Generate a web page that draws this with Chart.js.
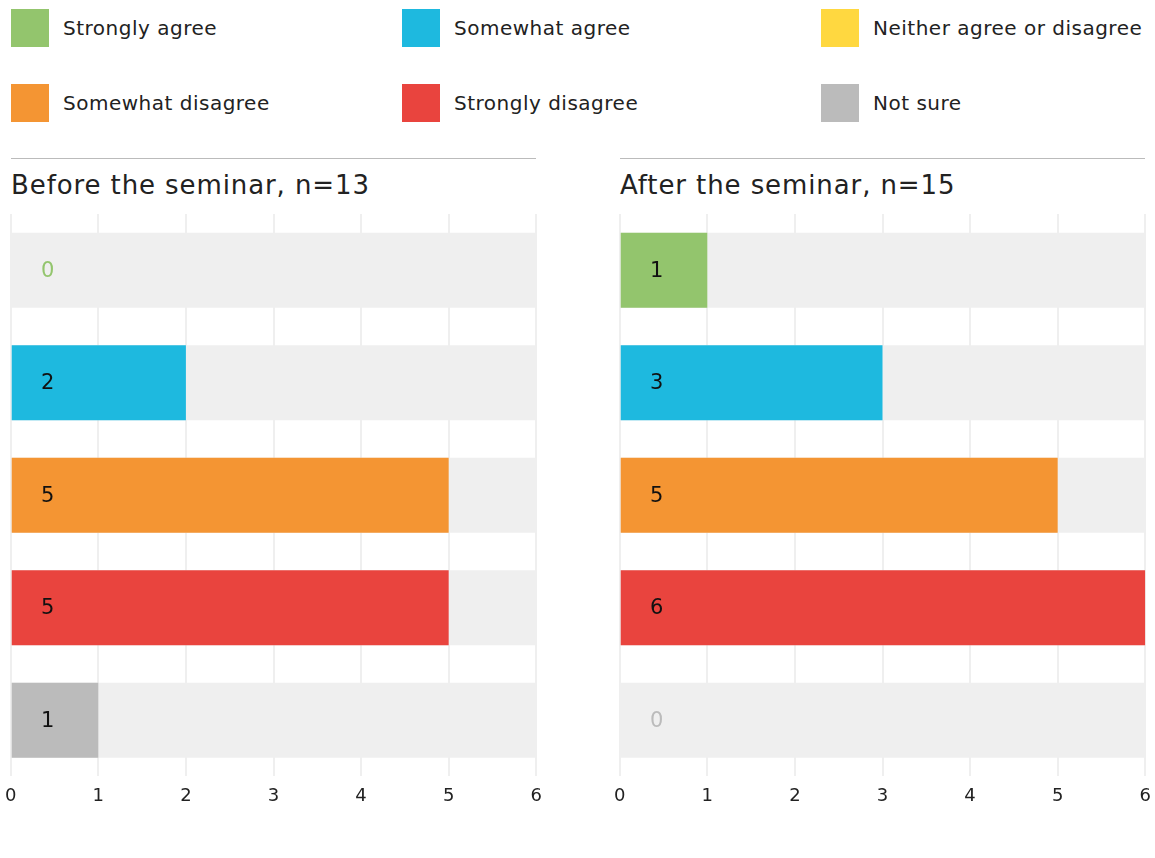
<!DOCTYPE html>
<html>
<head>
<meta charset="utf-8">
<script src="https://cdn.jsdelivr.net/npm/chart.js@4.4.1/dist/chart.umd.min.js"></script>
<style>
  html, body { margin: 0; background: #fff; font-family: "DejaVu Sans", sans-serif; color: #222; overflow: hidden; }
  #page { position: relative; width: 1155px; height: 858px; overflow: hidden; }
  .legend-item { position: absolute; height: 38px; display: flex; align-items: center; font-size: 20px; letter-spacing: 0.5px; }
  .legend-item .sw { width: 38px; height: 38px; margin-right: 14px; }
  .panel-head { position: absolute; top: 158px; width: 525px; border-top: 1px solid #bbb; }
  .panel-head div { font-size: 26px; letter-spacing: 0.9px; margin-top: 11px; color: #222; }
  .chart-box { position: absolute; top: 214px; width: 555px; height: 602px; }
</style>
</head>
<body>
<div id="page">
  <div id="legend"></div>
  <div class="panel-head" style="left:11px"><div>Before the seminar, n=13</div></div>
  <div class="panel-head" style="left:620px"><div>After the seminar, n=15</div></div>
  <div class="chart-box" style="left:-4px"><canvas id="before"></canvas></div>
  <div class="chart-box" style="left:605px"><canvas id="after"></canvas></div>
</div>
<script>
// legend entries (Neither... has no bar in either panel)
const legendLabels = ['Strongly agree', 'Somewhat agree', 'Neither agree or disagree',
                      'Somewhat disagree', 'Strongly disagree', 'Not sure'];
const legendColors = ['#93c56d', '#1eb9df', '#ffd840', '#f49533', '#e9443e', '#bbbbbb'];

// rows shown in both panels
const categories = ['Strongly agree', 'Somewhat agree', 'Somewhat disagree', 'Strongly disagree', 'Not sure'];
const barColors = ['#93c56d', '#1eb9df', '#f49533', '#e9443e', '#bbbbbb'];
const beforeValues = [0, 2, 5, 5, 1];
const afterValues = [1, 3, 5, 6, 0];
const maxValue = 6;
const tickValues = [0, 1, 2, 3, 4, 5, 6];

const fontFamily = '"DejaVu Sans", sans-serif';

// build legend
const legendDiv = document.getElementById('legend');
const legendX = [11, 402, 821];
const legendY = [9, 84];
legendLabels.forEach((label, i) => {
    const item = document.createElement('div');
    item.className = 'legend-item';
    item.style.left = legendX[i % 3] + 'px';
    item.style.top = legendY[Math.floor(i / 3)] + 'px';
    item.innerHTML = `<span class="sw" style="background:${legendColors[i]}"></span>${label}`;
    legendDiv.appendChild(item);
});

// draws the count inside each bar, near the left edge
const valueLabels = {
    id: 'valueLabels',
    afterDatasetsDraw(chart) {
        const ctx = chart.ctx;
        const meta = chart.getDatasetMeta(1);
        const values = chart.data.datasets[1].data;
        const x = chart.scales.x.getPixelForValue(0) + 37;
        ctx.save();
        ctx.font = '21px ' + fontFamily;
        ctx.textAlign = 'center';
        ctx.textBaseline = 'middle';
        meta.data.forEach((bar, i) => {
            ctx.fillStyle = values[i] === 0 ? barColors[i] : '#111';
            ctx.fillText(values[i], x, bar.y + 1);
        });
        ctx.restore();
    }
};

function makeChart(id, values) {
    const ctx = document.getElementById(id).getContext('2d');
    return new Chart(ctx, {
        type: 'bar',
        data: {
            labels: categories,
            datasets: [
                {
                    // grey track behind every bar
                    data: categories.map(() => maxValue),
                    backgroundColor: '#efefef',
                    grouped: false,
                    order: 2,
                    barPercentage: 0.667,
                    categoryPercentage: 1
                },
                {
                    data: values,
                    backgroundColor: barColors,
                    grouped: false,
                    order: 1,
                    barPercentage: 0.667,
                    categoryPercentage: 1
                }
            ]
        },
        options: {
            indexAxis: 'y',
            responsive: true,
            maintainAspectRatio: false,
            animation: false,
            layout: { padding: { left: 1, right: 1 } },
            scales: {
                x: {
                    min: 0,
                    max: maxValue,
                    afterBuildTicks: axis => { axis.ticks = tickValues.map(v => ({ value: v })); },
                    grid: { color: '#efefef', lineWidth: 2, drawTicks: false },
                    border: { display: false },
                    ticks: {
                        padding: 9,
                        color: '#222',
                        font: { size: 18, family: fontFamily }
                    }
                },
                y: { display: false }
            },
            plugins: {
                legend: { display: false },
                tooltip: { enabled: false }
            }
        },
        plugins: [valueLabels]
    });
}

const c1 = makeChart('before', beforeValues);
const c2 = makeChart('after', afterValues);
</script>
</body>
</html>
